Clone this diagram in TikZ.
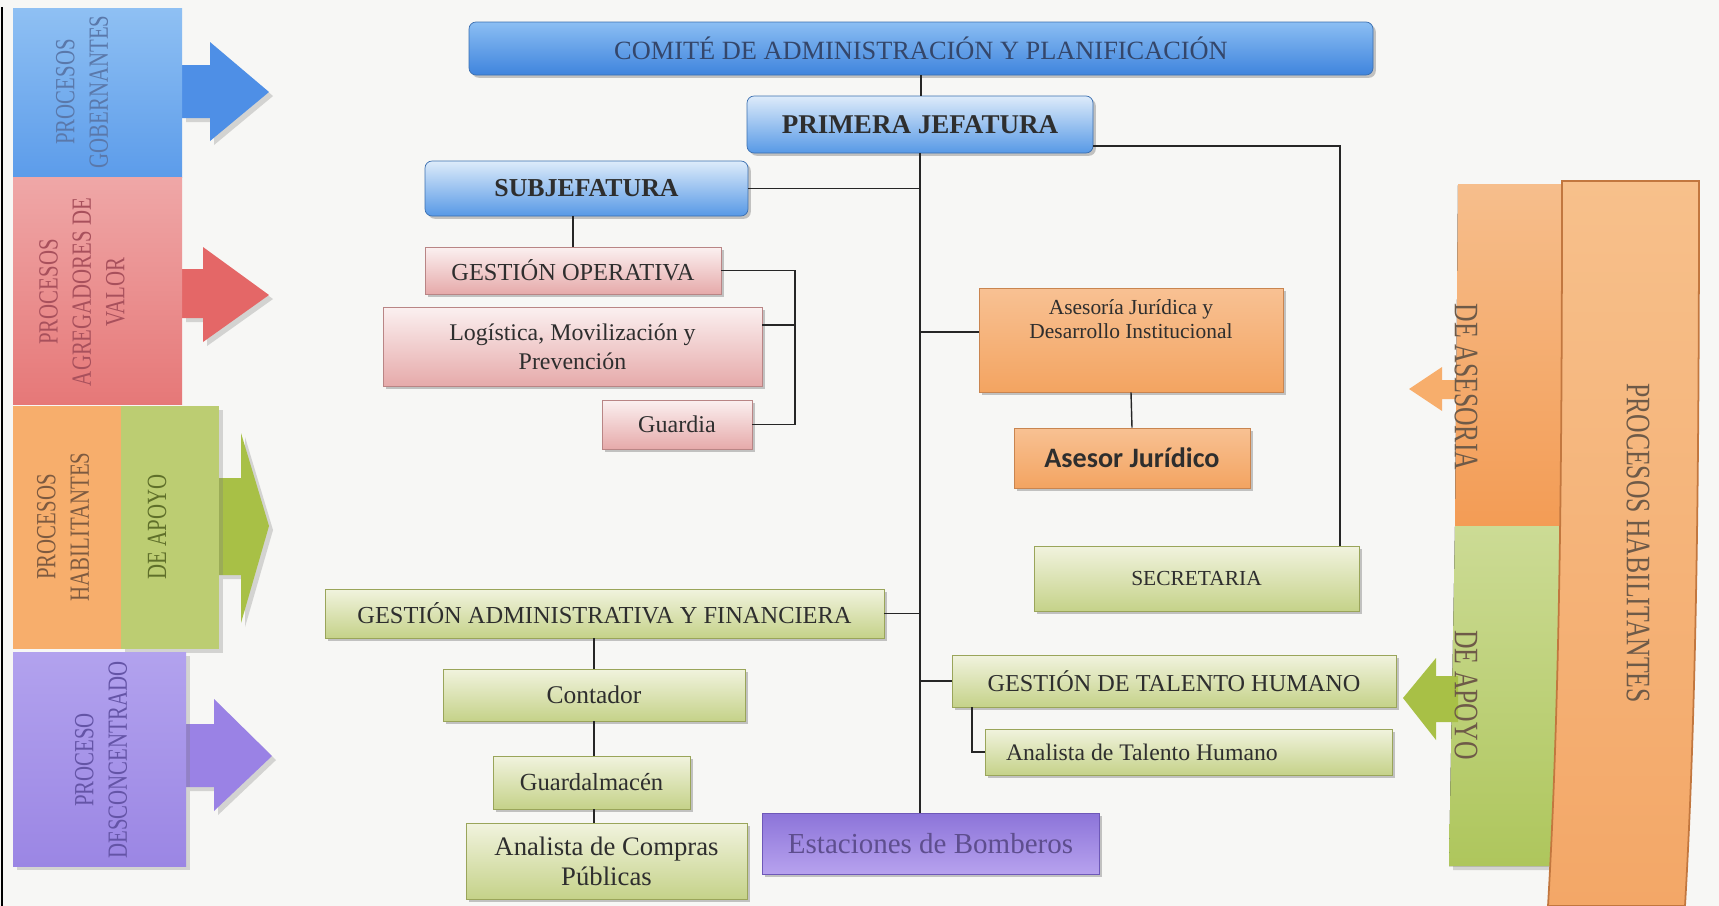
\documentclass[tikz,border=0pt]{standalone}
\usepackage{fontspec}
\setmainfont{Liberation Serif}
\newfontfamily\calib{Carlito}
\newfontfamily\narrowserif[FakeStretch=0.75]{Liberation Serif}
\usepackage{tikz}
\usetikzlibrary{shadows}
\definecolor{paper}{HTML}{F7F7F5}
\definecolor{linkcol}{HTML}{262626}
\definecolor{textdark}{HTML}{2E2E2E}
\definecolor{comitetop}{HTML}{8BBEF3}
\definecolor{comitebot}{HTML}{3F84DD}
\definecolor{comitetext}{HTML}{34466A}
\definecolor{blueline}{HTML}{3B6FB0}
\definecolor{bluetop}{HTML}{DDEBFA}
\definecolor{bluebot}{HTML}{5799E6}
\definecolor{pinkline}{HTML}{B98585}
\definecolor{pinktop}{HTML}{FBF0F0}
\definecolor{pinkbot}{HTML}{E6AAAA}
\definecolor{orangeline}{HTML}{C98550}
\definecolor{orangetop}{HTML}{F8C193}
\definecolor{orangebot}{HTML}{F3A461}
\definecolor{greenline}{HTML}{9AA55A}
\definecolor{greentop}{HTML}{F1F3DE}
\definecolor{greenbot}{HTML}{C5D289}
\definecolor{purpleline}{HTML}{6E58B8}
\definecolor{purpletop}{HTML}{8C74D9}
\definecolor{purplebot}{HTML}{B7A2EE}
\definecolor{purpletext}{HTML}{5E4E8E}
\definecolor{gobtop}{HTML}{8FC0F3}
\definecolor{gobbot}{HTML}{5C9CEA}
\definecolor{gobarrow}{HTML}{4E8FE6}
\definecolor{gobtext}{HTML}{5A78AA}
\definecolor{valtop}{HTML}{EFA7A7}
\definecolor{valbot}{HTML}{E67878}
\definecolor{valarrow}{HTML}{E46767}
\definecolor{valtext}{HTML}{A8505C}
\definecolor{haborange}{HTML}{F7AE6C}
\definecolor{habgreen}{HTML}{BCCD72}
\definecolor{habarrow}{HTML}{A8C046}
\definecolor{habtext}{HTML}{7D5A40}
\definecolor{apoytext}{HTML}{5F6F2A}
\definecolor{desctop}{HTML}{B2A2EE}
\definecolor{descbot}{HTML}{9B86E4}
\definecolor{descarrow}{HTML}{9A82E5}
\definecolor{desctext}{HTML}{6454A6}
\definecolor{bandtop}{HTML}{F7C08B}
\definecolor{bandbot}{HTML}{F3A767}
\definecolor{bandline}{HTML}{C2773F}
\definecolor{asestop}{HTML}{F6BE8C}
\definecolor{asesbot}{HTML}{F39C55}
\definecolor{apoytop}{HTML}{CCDB95}
\definecolor{apoybot}{HTML}{AEC65C}
\definecolor{righttext}{HTML}{6E5A48}
\tikzset{
	wh/.style 2 args={minimum width=#1*0.2mm, minimum height=#2*0.2mm},
	fs/.style 2 args={font=\fontsize{#1}{#2}\selectfont},
	fsb/.style 2 args={font=\fontsize{#1}{#2}\selectfont\bfseries},
	cardbase/.style={draw=#1, line width=0.4pt, inner sep=2pt, drop shadow={shadow xshift=1.6pt, shadow yshift=-1.6pt, opacity=.45}},
	bluebox/.style={cardbase=blueline, top color=bluetop, bottom color=bluebot, rounded corners=4pt, text=textdark},
	pinkbox/.style={cardbase=pinkline, top color=pinktop, bottom color=pinkbot, text=textdark},
	orangebox/.style={cardbase=orangeline, top color=orangetop, bottom color=orangebot, text=textdark},
	greenbox/.style={cardbase=greenline, top color=greentop, bottom color=greenbot, text=textdark},
	purplebox/.style={cardbase=purpleline, top color=purpletop, bottom color=purplebot, text=purpletext},
	bannertext/.style={font=\narrowserif\fontsize{15.8}{19}\selectfont, rotate=90, align=center},
	sidetext/.style={font=\narrowserif\fontsize{19.5}{22}\selectfont, rotate=-90, text=righttext},
	link/.style={draw=linkcol, line width=0.8pt},
}

\begin{document}
\begin{tikzpicture}[x=0.2mm, y=-0.2mm]
	\useasboundingbox (0,0) rectangle (1719,906);
	\fill[paper] (0,0) rectangle (1719,906);
	\draw[black, line width=1.6pt] (2,7) -- (2,906);

	\fill[gobarrow, drop shadow={opacity=.3}] (182,65) -- (210,65) -- (210,42) -- (269,92) -- (210,141) -- (210,118) -- (182,118) -- cycle;
	\fill[top color=gobtop, bottom color=gobbot] (13,8) rectangle (182,177);
	\node[bannertext, text=gobtext] (gobtxt) at (82,92) {PROCESOS\\GOBERNANTES};

	\fill[valarrow, drop shadow={opacity=.3}] (182,269) -- (203,269) -- (203,247) -- (269,295) -- (203,342) -- (203,318) -- (182,318) -- cycle;
	\fill[top color=valtop, bottom color=valbot] (13,177) rectangle (182,404);
	\node[bannertext, text=valtext] (valtxt) at (82,292) {PROCESOS\\AGREGADORES DE\\VALOR};

	\fill[habarrow, drop shadow={opacity=.3}] (219,478) -- (241,478) -- (241,433) -- (269,526) -- (241,623) -- (241,575) -- (219,575) -- cycle;
	\fill[haborange] (13,406) rectangle (121,649);
	\fill[habgreen, drop shadow={opacity=.3}] (121,406) rectangle (219,649);
	\node[bannertext, text=habtext] (habtxt) at (63,527) {PROCESOS\\HABILITANTES};
	\node[bannertext, text=apoytext] (apoytxt) at (157,527) {DE APOYO};

	\fill[descarrow, drop shadow={opacity=.3}] (186,724) -- (214,724) -- (214,699) -- (272,756) -- (214,811) -- (214,787) -- (186,787) -- cycle;
	\fill[top color=desctop, bottom color=descbot, drop shadow={opacity=.3}] (13,652) rectangle (186,866);
	\node[bannertext, text=desctext] (desctxt) at (101,760) {PROCESO\\DESCONCENTRADO};

	\fill[top color=asestop, bottom color=asesbot] (1458,184) -- (1566,184) -- (1566,526) -- (1455,526) -- cycle;
	\fill[top color=apoytop, bottom color=apoybot, drop shadow={opacity=.3}] (1455,526) -- (1562,526) -- (1558,866) -- (1449,866) -- cycle;
	\fill[haborange] (1458,380) -- (1442,380) -- (1442,367) -- (1409,389) -- (1442,411) -- (1442,399) -- (1458,399) -- cycle;
	\fill[habarrow] (1458,676) -- (1436,676) -- (1436,658) -- (1403,698) -- (1436,740) -- (1436,722) -- (1458,722) -- cycle;
	\filldraw[draw=bandline, line width=1pt, top color=bandtop, bottom color=bandbot] (1562,181) .. controls (1562,450) and (1560,700) .. (1548,906) -- (1685,906) .. controls (1697,700) and (1699,450) .. (1699,181) -- cycle;
	\node[sidetext] (asestxt) at (1466,387) {DE ASESORIA};
	\node[sidetext] (apoyrtxt) at (1466,695) {DE APOYO};
	\node[sidetext] (habrtxt) at (1638,543) {PROCESOS HABILITANTES};

	\node[bluebox, top color=comitetop, bottom color=comitebot, text=comitetext, wh={904}{53}, fs={15}{17}] (comite) at (921,48.5) {COMITÉ DE ADMINISTRACIÓN Y PLANIFICACIÓN};
	\node[bluebox, wh={346}{57}, fsb={15.4}{17}] (primera) at (920,124.5) {PRIMERA JEFATURA};
	\node[bluebox, wh={323}{55}, fsb={14.7}{17}] (subjef) at (586.5,188.5) {SUBJEFATURA};
	\node[pinkbox, wh={296}{47}, fs={13.9}{16}] (gop) at (573,270.5) {GESTIÓN OPERATIVA};
	\node[pinkbox, wh={379}{79}, fs={13.6}{16.5}, align=center] (logis) at (572.5,346.5) {Logística, Movilización y\\Prevención};
	\node[pinkbox, wh={150}{49}, fs={13.7}{16}] (guardia) at (677,424.5) {Guardia};
	\node[orangebox, wh={304}{104}, label={[fs={12.2}{14.2}, text=textdark, align=center, anchor=north, yshift=-3pt]north:{Asesoría Jurídica y\\Desarrollo Institucional}}] (asesoria) at (1131,340) {};
	\node[orangebox, wh={236}{60}, font=\calib\fontsize{16}{18}\selectfont\bfseries] (asesor) at (1132,458) {Asesor Jurídico};
	\node[greenbox, wh={325}{65}, fs={12.2}{14}] (secre) at (1196.5,578.5) {SECRETARIA};
	\node[greenbox, wh={559}{49}, fs={13.9}{16}] (gaf) at (604.5,613.5) {GESTIÓN ADMINISTRATIVA Y FINANCIERA};
	\node[greenbox, wh={302}{52}, fs={14.5}{16}] (contador) at (594,695) {Contador};
	\node[greenbox, wh={197}{53}, fs={14}{16}] (guardalm) at (591.5,782.5) {Guardalmacén};
	\node[greenbox, wh={281}{76}, fs={15.2}{17}, align=center] (compras) at (606.5,861) {Analista de Compras\\Públicas};
	\node[purplebox, wh={337}{61}, fs={16.5}{18}] (estaciones) at (930.5,843.5) {Estaciones de Bomberos};
	\node[greenbox, wh={444}{52}, fs={13.8}{16}] (gth) at (1174,681) {GESTIÓN DE TALENTO HUMANO};
	\node[greenbox, wh={407}{46}, fs={13.5}{15}, text width=73mm, inner xsep=4.2mm, align=flush left] (ath) at (1188.5,752) {Analista de Talento Humano};

	\coordinate (secjoint) at (1340,146);
	\coordinate (opbar) at (795,325);
	\coordinate (thjoint) at (972,752);
	\draw[link] (comite.south) -- (comite.south |- primera.north);
	\draw[link] (primera.south) -- (primera.south |- estaciones.north);
	\draw[link] (subjef.east) -- (subjef.east -| primera.south);
	\draw[link] (primera.east |- secjoint) -- (secjoint) -- (secjoint |- secre.north);
	\draw[link] (gop.north) -- (gop.north |- subjef.south);
	\draw[link] (gop.east) -| (opbar) |- (guardia.east);
	\draw[link] (logis.east |- opbar) -- (opbar);
	\draw[link] (asesoria.177) -- (asesoria.177 -| primera.south);
	\draw[link] (asesoria.south) -- (asesor.north);
	\draw[link] (gaf.east) -- (gaf.east -| primera.south);
	\draw[link] (contador.north) -- (contador.north |- gaf.south);
	\draw[link] (contador.south) -- (contador.south |- guardalm.north);
	\draw[link] (contador.south |- guardalm.south) -- (contador.south |- compras.north);
	\draw[link] (gth.west) -- (gth.west -| primera.south);
	\draw[link] (thjoint |- gth.south) -- (thjoint) -- (ath.west);
\end{tikzpicture}
\end{document}
